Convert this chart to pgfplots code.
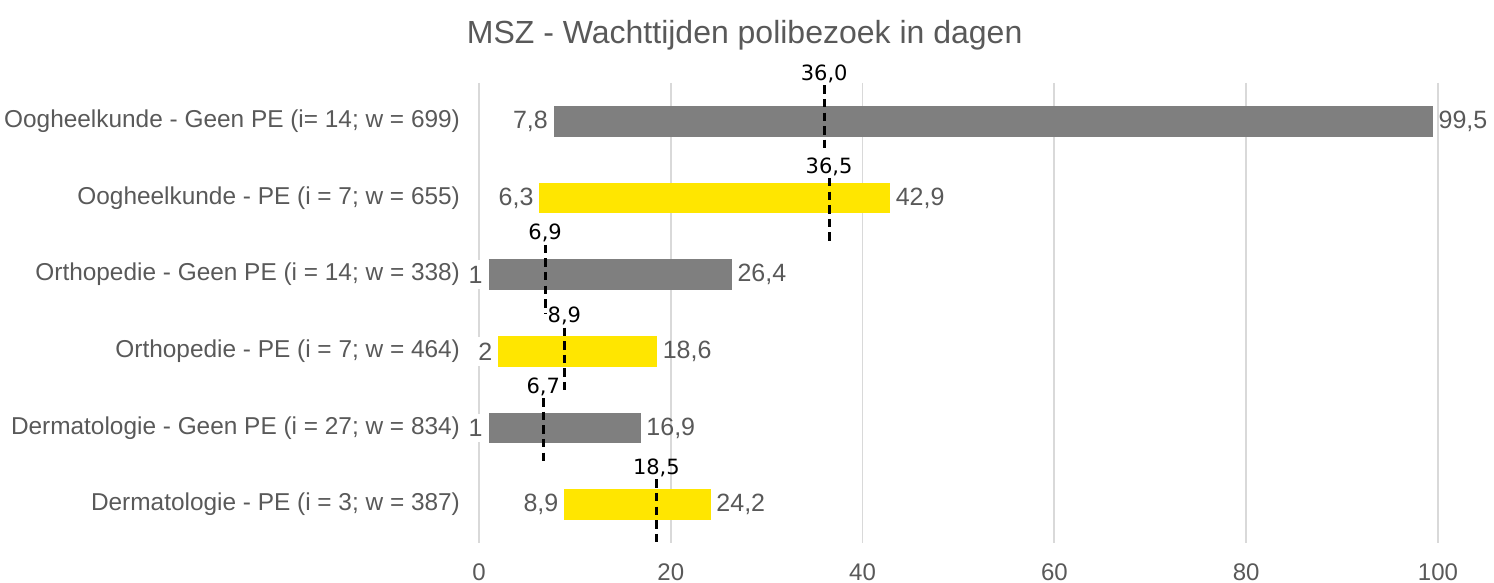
\documentclass[border=0pt]{standalone}
\usepackage{pgfplots}
\pgfplotsset{compat=1.18}
\usepackage{pgfplotstable}
\usepackage{fontspec}
\setmainfont{Liberation Sans}
\newfontfamily\medfont{DejaVu Sans}
\definecolor{txtgray}{HTML}{595959}
\definecolor{bargray}{HTML}{7F7F7F}
\definecolor{eyyellow}{HTML}{FFE600}
\definecolor{gridgray}{HTML}{D9D9D9}

\pgfplotstableread{
x y lab
7.8 1 7,8
6.3 2 6,3
1 3 1
2 4 2
1 5 1
8.9 6 8,9
}\minlabels
\pgfplotstableread{
x y lab
99.5 1 99,5
42.9 2 42,9
26.4 3 26,4
18.6 4 18,6
16.9 5 16,9
24.2 6 24,2
}\maxlabels
\pgfplotstableread{
x y lab
36.0 0.53 36,0
36.5 1.74 36,5
6.9 2.61 6,9
8.9 3.69 8,9
6.7 4.61 6,7
18.5 5.67 18,5
}\medlabels

\begin{document}
\begin{tikzpicture}
\begin{axis}[
  name=ax,
  scale only axis,
  width=479.5pt, height=230pt,
  xmin=0, xmax=100, ymin=0.5, ymax=6.5,
  y dir=reverse,
  clip=false,
  axis line style={draw=none},
  xmajorgrids, grid style={gridgray, line width=0.9pt},
  xtick={0,20,40,60,80,100},
  ytick={1,2,3,4,5,6},
  yticklabels={
    {Oogheelkunde - Geen PE (i= 14; w = 699)},
    {Oogheelkunde - PE (i = 7; w = 655)},
    {Orthopedie - Geen PE (i = 14; w = 338)},
    {Orthopedie - PE (i = 7; w = 464)},
    {Dermatologie - Geen PE (i = 27; w = 834)},
    {Dermatologie - PE (i = 3; w = 387)}},
  major tick length=0pt,
  /pgf/number format/assume math mode=true,
  tick label style={text=txtgray},
  yticklabel style={xshift=-6pt, font=\fontsize{12.2}{14}\selectfont},
  xticklabel style={yshift=-7pt, font=\fontsize{12}{14}\selectfont},
  title={MSZ - Wachttijden polibezoek in dagen},
  title style={at={(axis description cs:0.277,1.078)}, anchor=center, text=txtgray, font=\fontsize{16}{19}\selectfont},
]
% bars (min to max)
\addplot[fill=bargray, draw=none] coordinates {(7.8,0.8) (99.5,0.8) (99.5,1.2) (7.8,1.2)} -- cycle;
\addplot[fill=eyyellow, draw=none] coordinates {(6.3,1.8) (42.9,1.8) (42.9,2.2) (6.3,2.2)} -- cycle;
\addplot[fill=bargray, draw=none] coordinates {(1,2.8) (26.4,2.8) (26.4,3.2) (1,3.2)} -- cycle;
\addplot[fill=eyyellow, draw=none] coordinates {(2,3.8) (18.6,3.8) (18.6,4.2) (2,4.2)} -- cycle;
\addplot[fill=bargray, draw=none] coordinates {(1,4.8) (16.9,4.8) (16.9,5.2) (1,5.2)} -- cycle;
\addplot[fill=eyyellow, draw=none] coordinates {(8.9,5.8) (24.2,5.8) (24.2,6.2) (8.9,6.2)} -- cycle;
% median lines
\addplot[black, line width=1.5pt, dash pattern=on 4.2pt off 2.6pt] coordinates {(36.0,0.53) (36.0,1.40)};
\addplot[black, line width=1.5pt, dash pattern=on 4.2pt off 2.6pt] coordinates {(36.5,1.74) (36.5,2.61)};
\addplot[black, line width=1.5pt, dash pattern=on 4.2pt off 2.6pt] coordinates {(6.9,2.61) (6.9,3.50)};
\addplot[black, line width=1.5pt, dash pattern=on 4.2pt off 2.6pt] coordinates {(8.9,3.69) (8.9,4.55)};
\addplot[black, line width=1.5pt, dash pattern=on 4.2pt off 2.6pt] coordinates {(6.7,4.61) (6.7,5.46)};
\addplot[black, line width=1.5pt, dash pattern=on 4.2pt off 2.6pt] coordinates {(18.5,5.67) (18.5,6.52)};
% labels
\addplot[draw=none, mark=none, nodes near coords, point meta=explicit symbolic,
  nodes near coords style={anchor=east, text=txtgray, fill=white, inner sep=2.8pt, font=\fontsize{12.5}{14}\selectfont}]
  table[x=x, y=y, meta=lab] {\minlabels};
\addplot[draw=none, mark=none, nodes near coords, point meta=explicit symbolic,
  nodes near coords style={anchor=west, text=txtgray, inner sep=2.5pt, font=\fontsize{12.5}{14}\selectfont}]
  table[x=x, y=y, meta=lab] {\maxlabels};
\addplot[draw=none, mark=none, nodes near coords, point meta=explicit symbolic,
  nodes near coords style={anchor=base, text=black, inner sep=0pt, yshift=2.5pt, font=\medfont\fontsize{10.5}{12}\selectfont}]
  table[x=x, y=y, meta=lab] {\medlabels};
\end{axis}
\pgfresetboundingbox
\path ([shift={(-239.5pt,-20pt)}]ax.south west) rectangle ([shift={(28pt,41.5pt)}]ax.north east);
\end{tikzpicture}
\end{document}
